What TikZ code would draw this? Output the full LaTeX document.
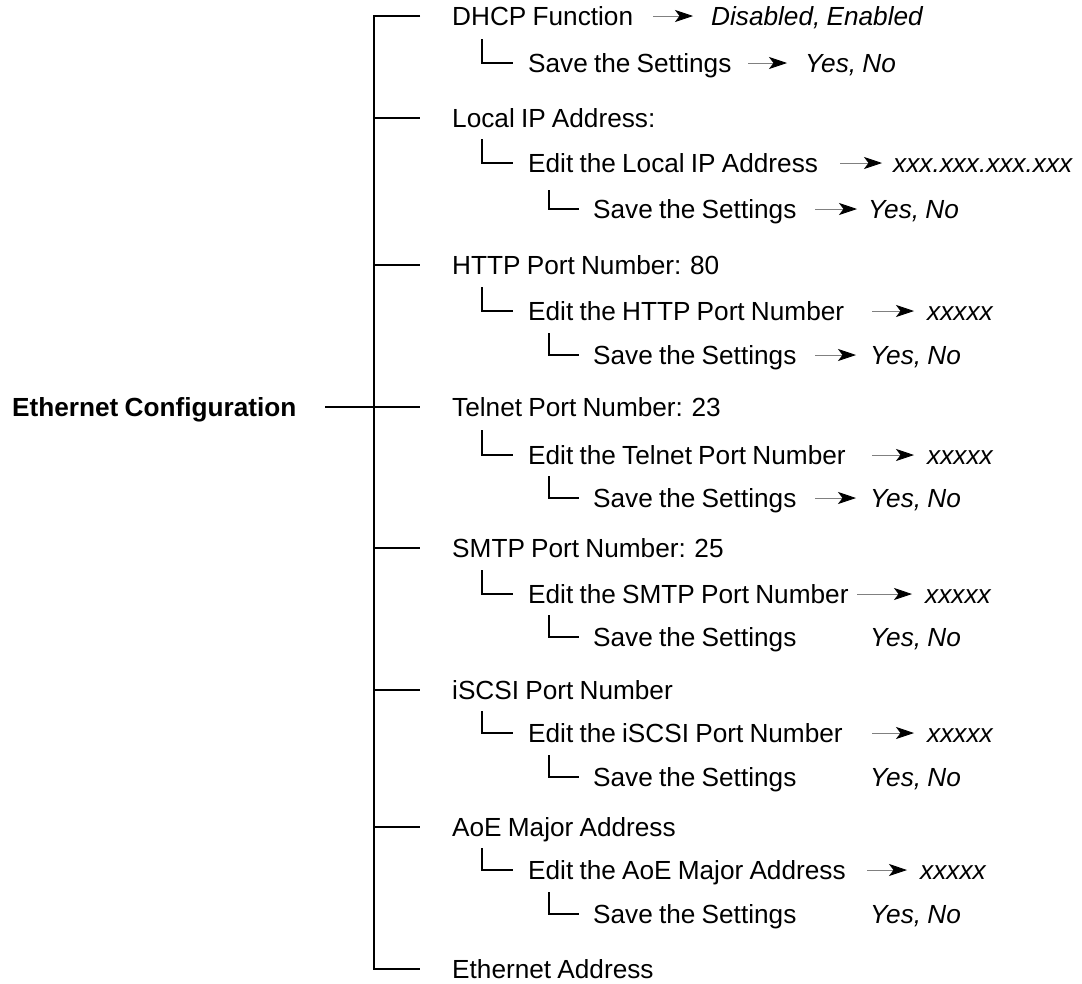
\documentclass[tikz,border=0pt]{standalone}
\usepackage{fontspec}
\setmainfont{Liberation Sans}[WordSpace=0.85]
\usetikzlibrary{arrows.meta}
\newcommand\fs{\fontsize{26.2}{31}\selectfont}
% item: name, x, y(centre), text
\newcommand\Item[4]{\coordinate (#1c) at (#2,#3);
  \node[txt] (#1) at ([yshift=-9.4pt]#1c) {#4};}
% value: name, x, y(centre), text
\newcommand\Val[4]{\coordinate (#1c) at (#2,#3);
  \node[val] (#1) at ([yshift=-9.4pt]#1c) {#4};}
% arrow: start name, start x, y, value node, gap
\newcommand\Arr[5]{\coordinate (#1) at (#2,#3);
  \draw[arr,shorten >=#5pt] (#1) -- (#1 -| #4.west);}
\begin{document}
\begin{tikzpicture}[x=1pt,y=-1pt,
  txt/.style={anchor=base west,inner sep=0pt,font=\fs},
  val/.style={anchor=base west,inner sep=0pt,font=\fs\itshape},
  root/.style={anchor=base west,inner sep=0pt,font=\fs\bfseries},
  tree/.style={line width=1.8pt,black},
  arr/.style={draw=black!50,line width=0.8pt,-{Stealth[length=18pt,width=12pt,inset=4.5pt,color=black]}}]
\useasboundingbox (0,0) rectangle (1082,983);

% root
\coordinate (rootc) at (12,407);
\node[root] (root) at ([yshift=-9.4pt]rootc) {Ethernet Configuration};

% level 1
\Item{dhcp}{452}{16}{DHCP Function}
\Item{lip}{452}{118}{Local IP Address:}
\Item{http}{452}{265}{HTTP Port Number: 80}
\Item{tel}{452}{407}{Telnet Port Number: 23}
\Item{smtp}{452}{548}{SMTP Port Number: 25}
\Item{iscsi}{452}{690}{iSCSI Port Number}
\Item{aoe}{452}{827}{AoE Major Address}
\Item{eth}{452}{969}{Ethernet Address}

% level 2
\Item{dsave}{528}{63}{Save the Settings}
\Item{lipe}{528}{163}{Edit the Local IP Address}
\Item{httpe}{528}{311}{Edit the HTTP Port Number}
\Item{tele}{528}{455}{Edit the Telnet Port Number}
\Item{smtpe}{528}{594}{Edit the SMTP Port Number}
\Item{iscsie}{528}{733}{Edit the iSCSI Port Number}
\Item{aoee}{528}{870}{Edit the AoE Major Address}

% level 3
\Item{lips}{593}{209}{Save the Settings}
\Item{https}{593}{355}{Save the Settings}
\Item{tels}{593}{498}{Save the Settings}
\Item{smtps}{593}{637}{Save the Settings}
\Item{iscsis}{593}{777}{Save the Settings}
\Item{aoes}{593}{914}{Save the Settings}

% values
\Val{dhcpv}{711}{16}{Disabled, Enabled}
\Val{dsavev}{805}{63}{Yes, No}
\Val{lipev}{893}{163}{xxx.xxx.xxx.xxx}
\Val{lipsv}{868}{209}{Yes, No}
\Val{httpev}{927}{311}{xxxxx}
\Val{httpsv}{870}{355}{Yes, No}
\Val{telev}{927}{455}{xxxxx}
\Val{telsv}{870}{498}{Yes, No}
\Val{smtpev}{925}{594}{xxxxx}
\Val{smtpsv}{870}{637}{Yes, No}
\Val{iscsiev}{927}{733}{xxxxx}
\Val{iscsisv}{870}{777}{Yes, No}
\Val{aoeev}{920}{870}{xxxxx}
\Val{aoesv}{870}{914}{Yes, No}

% arrows
\Arr{a1}{653}{16}{dhcpv}{18}
\Arr{a2}{748}{63}{dsavev}{18}
\Arr{a3}{840}{163}{lipev}{11}
\Arr{a4}{815}{209}{lipsv}{11}
\Arr{a5}{872}{311}{httpev}{13}
\Arr{a6}{815}{355}{httpsv}{14}
\Arr{a7}{872}{455}{telev}{13}
\Arr{a8}{815}{498}{telsv}{14}
\Arr{a9}{857}{594}{smtpev}{13}
\Arr{a10}{872}{733}{iscsiev}{13}
\Arr{a11}{867}{870}{aoeev}{13}

% trunk and level-1 branches
\coordinate (tx) at (374,0);
\coordinate (rl) at (325,407);
\draw[tree] ([xshift=-32pt]dhcp.west |- dhcpc) -- (tx |- dhcpc) -- (tx |- ethc) -- ([xshift=-32pt]eth.west |- ethc);
\draw[tree] (rl |- telc) -- ([xshift=-32pt]tel.west |- telc);
\foreach \n in {lip,http,smtp,iscsi,aoe}
  \draw[tree] (tx |- \n c) -- ([xshift=-32pt]\n.west |- \n c);

% level-2 elbows
\draw[tree] (482,39) |- ([xshift=-15pt]dsave.west |- dsavec);
\draw[tree] (482,139) |- ([xshift=-15pt]lipe.west |- lipec);
\draw[tree] (482,287) |- ([xshift=-15pt]httpe.west |- httpec);
\draw[tree] (482,430) |- ([xshift=-15pt]tele.west |- telec);
\draw[tree] (482,570) |- ([xshift=-15pt]smtpe.west |- smtpec);
\draw[tree] (482,711) |- ([xshift=-15pt]iscsie.west |- iscsiec);
\draw[tree] (482,848) |- ([xshift=-15pt]aoee.west |- aoeec);

% level-3 elbows
\draw[tree] (549,190) |- ([xshift=-14pt]lips.west |- lipsc);
\draw[tree] (549,333) |- ([xshift=-14pt]https.west |- httpsc);
\draw[tree] (549,476) |- ([xshift=-14pt]tels.west |- telsc);
\draw[tree] (549,615) |- ([xshift=-14pt]smtps.west |- smtpsc);
\draw[tree] (549,755) |- ([xshift=-14pt]iscsis.west |- iscsisc);
\draw[tree] (549,892) |- ([xshift=-14pt]aoes.west |- aoesc);
\end{tikzpicture}
\end{document}
